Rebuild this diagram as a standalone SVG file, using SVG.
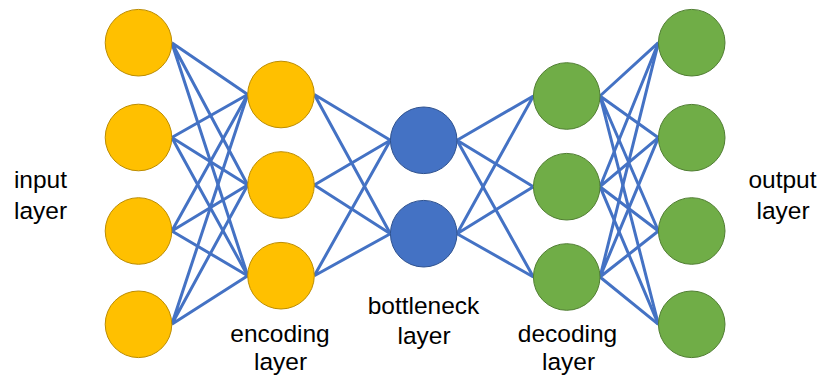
<svg xmlns="http://www.w3.org/2000/svg" width="821" height="376" viewBox="0 0 821 376">
  <style>
    .edge { stroke: #4472C4; stroke-width: 3; fill: none; }
    .enc { fill: #FFC000; stroke: #BC8C00; stroke-width: 1; }
    .bot { fill: #4472C4; stroke: #2F528F; stroke-width: 1; }
    .dec { fill: #70AD47; stroke: #507E32; stroke-width: 1; }
    .lbl { font-family: "Liberation Sans", Arial, sans-serif; font-size: 24.5px; fill: #000; text-anchor: middle; }
  </style>
  <rect width="821" height="376" fill="#fff"/>
  <g id="connectors">
    <!-- input -> encoding -->
    <path class="edge" d="M171.8,42.7L247.7,94.5M171.8,42.7L247.7,185M171.8,42.7L247.7,275.7"/>
    <path class="edge" d="M171.8,137.5L247.7,94.5M171.8,137.5L247.7,185M171.8,137.5L247.7,275.7"/>
    <path class="edge" d="M171.8,231L247.7,94.5M171.8,231L247.7,185M171.8,231L247.7,275.7"/>
    <path class="edge" d="M171.8,324.3L247.7,94.5M171.8,324.3L247.7,185M171.8,324.3L247.7,275.7"/>
    <!-- encoding -> bottleneck -->
    <path class="edge" d="M314.3,94.5L390.4,140.3M314.3,94.5L390.4,233.7"/>
    <path class="edge" d="M314.3,185L390.4,140.3M314.3,185L390.4,233.7"/>
    <path class="edge" d="M314.3,275.7L390.4,140.3M314.3,275.7L390.4,233.7"/>
    <!-- bottleneck -> decoding -->
    <path class="edge" d="M457,140.3L533.4,96M457,140.3L533.4,186.7M457,140.3L533.4,277"/>
    <path class="edge" d="M457,233.7L533.4,96M457,233.7L533.4,186.7M457,233.7L533.4,277"/>
    <!-- decoding -> output -->
    <path class="edge" d="M600,96L658.4,42.7M600,96L658.4,137.7M600,96L658.4,231M600,96L658.4,324.3"/>
    <path class="edge" d="M600,186.7L658.4,42.7M600,186.7L658.4,137.7M600,186.7L658.4,231M600,186.7L658.4,324.3"/>
    <path class="edge" d="M600,277L658.4,42.7M600,277L658.4,137.7M600,277L658.4,231M600,277L658.4,324.3"/>
  </g>
  <g id="input-1"><circle class="enc" cx="138.5" cy="42.7" r="33.3"/></g>
  <g id="input-2"><circle class="enc" cx="138.5" cy="137.5" r="33.3"/></g>
  <g id="input-3"><circle class="enc" cx="138.5" cy="231" r="33.3"/></g>
  <g id="input-4"><circle class="enc" cx="138.5" cy="324.3" r="33.3"/></g>
  <g id="encoding-1"><circle class="enc" cx="281" cy="94.5" r="33.3"/></g>
  <g id="encoding-2"><circle class="enc" cx="281" cy="185" r="33.3"/></g>
  <g id="encoding-3"><circle class="enc" cx="281" cy="275.7" r="33.3"/></g>
  <g id="bottleneck-1"><circle class="bot" cx="423.7" cy="140.3" r="33.3"/></g>
  <g id="bottleneck-2"><circle class="bot" cx="423.7" cy="233.7" r="33.3"/></g>
  <g id="decoding-1"><circle class="dec" cx="566.7" cy="96" r="33.3"/></g>
  <g id="decoding-2"><circle class="dec" cx="566.7" cy="186.7" r="33.3"/></g>
  <g id="decoding-3"><circle class="dec" cx="566.7" cy="277" r="33.3"/></g>
  <g id="output-1"><circle class="dec" cx="691.7" cy="42.7" r="33.3"/></g>
  <g id="output-2"><circle class="dec" cx="691.7" cy="137.7" r="33.3"/></g>
  <g id="output-3"><circle class="dec" cx="691.7" cy="231" r="33.3"/></g>
  <g id="output-4"><circle class="dec" cx="691.7" cy="324.3" r="33.3"/></g>
  <g id="labels">
    <text class="lbl" x="40.5" y="188">input</text>
    <text class="lbl" x="40.5" y="218.5">layer</text>
    <text class="lbl" x="782.5" y="188">output</text>
    <text class="lbl" x="783" y="218.5">layer</text>
    <text class="lbl" x="280" y="342">encoding</text>
    <text class="lbl" x="280.5" y="370">layer</text>
    <text class="lbl" x="423.5" y="314">bottleneck</text>
    <text class="lbl" x="424" y="344">layer</text>
    <text class="lbl" x="567.5" y="342">decoding</text>
    <text class="lbl" x="568.5" y="370">layer</text>
  </g>
</svg>
